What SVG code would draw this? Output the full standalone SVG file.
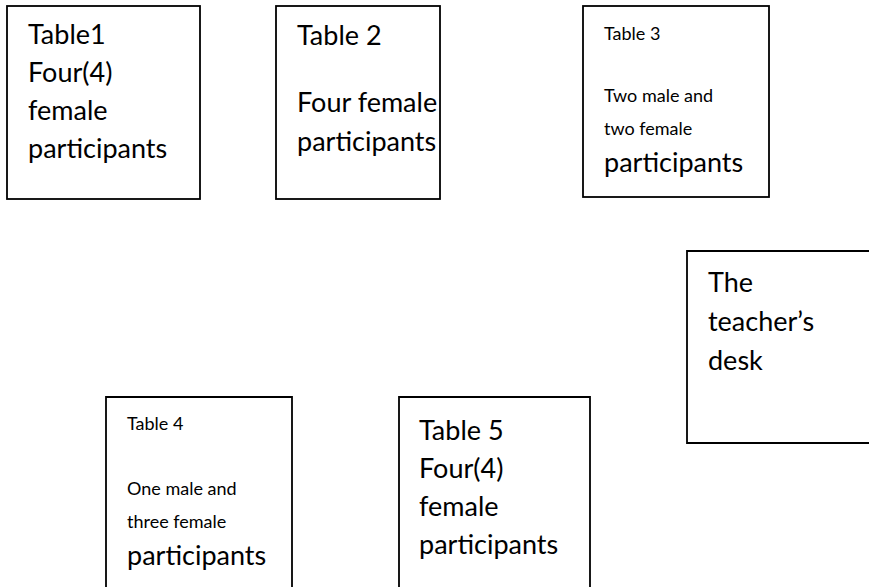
<svg xmlns="http://www.w3.org/2000/svg" width="869" height="587" viewBox="0 0 869 587">
<style>
.box{fill:#fff;stroke:#000;stroke-width:1.8}
.t{font-family:Lato,"Open Sans","Liberation Sans",sans-serif;fill:#000}
.lg{font-size:27px}
.sm{font-size:18px}
</style>
<rect width="869" height="587" fill="#fff"/>
<g id="table1">
<rect class="box" x="7" y="6" width="193" height="193"/>
<text class="t lg" x="28" y="44">Table1</text>
<text class="t lg" x="28" y="82">Four(4)</text>
<text class="t lg" x="28" y="120">female</text>
<text class="t lg" x="28" y="158">participants</text>
</g>
<g id="table2">
<rect class="box" x="276" y="6" width="164" height="193"/>
<text class="t lg" x="297" y="45">Table 2</text>
<text class="t lg" x="297" y="112">Four female</text>
<text class="t lg" x="297" y="151">participants</text>
</g>
<g id="table3">
<rect class="box" x="583" y="6" width="186" height="191"/>
<text class="t sm" x="604" y="40">Table 3</text>
<text class="t sm" x="604" y="102">Two male and</text>
<text class="t sm" x="604" y="135">two female</text>
<text class="t lg" x="604" y="172">participants</text>
</g>
<g id="desk">
<path class="box" d="M870,251 H687 V443 H870"/>
<text class="t lg" x="708" y="292">The</text>
<text class="t lg" x="708" y="331">teacher’s</text>
<text class="t lg" x="708" y="370">desk</text>
</g>
<g id="table4">
<path class="box" d="M106,590 V397 H292 V590"/>
<text class="t sm" x="127" y="430">Table 4</text>
<text class="t sm" x="127" y="495">One male and</text>
<text class="t sm" x="127" y="528">three female</text>
<text class="t lg" x="127" y="565">participants</text>
</g>
<g id="table5">
<path class="box" d="M399,590 V397 H590 V590"/>
<text class="t lg" x="419" y="440">Table 5</text>
<text class="t lg" x="419" y="478">Four(4)</text>
<text class="t lg" x="419" y="516">female</text>
<text class="t lg" x="419" y="554">participants</text>
</g>
<g id="connectors"></g>
</svg>
